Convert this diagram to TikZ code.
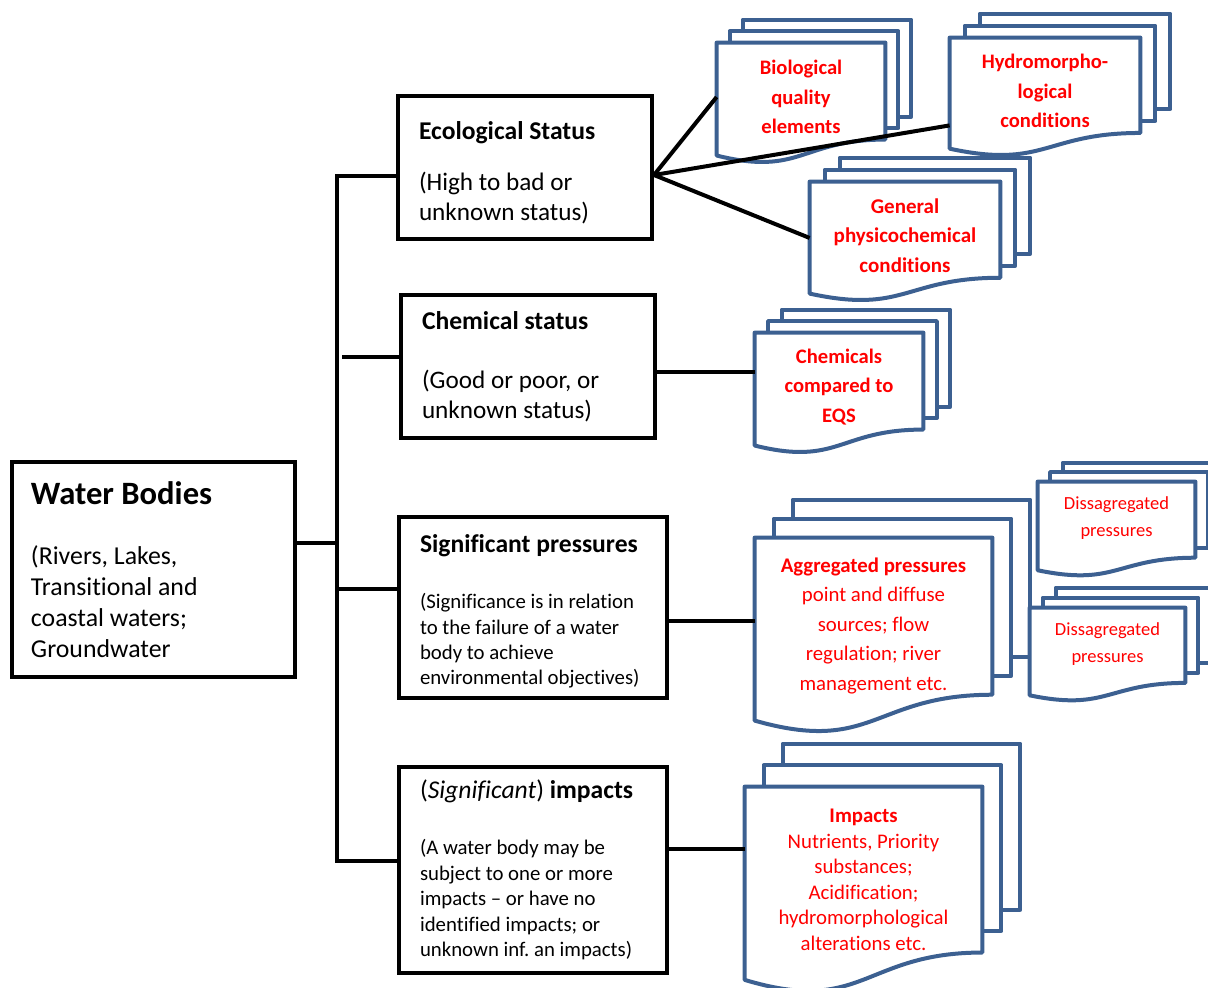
\documentclass[tikz,border=0pt]{standalone}
\usepackage{fontspec}
\setmainfont{Carlito}[Ligatures=NoCommon]
\usetikzlibrary{positioning, calc, backgrounds}
\frenchspacing

\definecolor{docblue}{RGB}{60,96,145}

% stack of three documents behind node #1, shifted by (#2,#3)
\newcommand{\docstack}[3]{%
  \foreach \k in {2,1}{
    \draw[docline] let \p1=($(#1.north)-(#1.south)$) in
      ($(#1.north west)+(\k*#2,-\k*#3)$) rectangle ($(#1.south east)+(\k*#2,-\k*#3)+(0pt,0.1089*\y1)$);
  }
  \draw[docline] let \p1=($(#1.north)-(#1.south)$) in
    ($(#1.south east)+(0pt,0.1089*\y1)$) .. controls ($(#1.south)+(0pt,0.1089*\y1)$) and ($(#1.south)+(0pt,-0.2306*\y1)$)
    .. ($(#1.south west)+(0pt,-0.0378*\y1)$) -- (#1.north west) -- (#1.north east) -- cycle;
}

\begin{document}
\begin{tikzpicture}[x=0.5pt, y=-0.5pt,
            box/.style={draw, line width=2pt, align=flush left, inner xsep=10.5pt, inner ysep=0pt},
            docline/.style={draw=docblue, line width=2pt, fill=white, line join=round},
            doc/.style={inner sep=0pt, align=center, text=red},
            conn/.style={line width=2pt},
        ]
        \useasboundingbox (0,0) rectangle (1208,987);

        \node[box, minimum width=141.5pt, minimum height=107.5pt, text width=122.5pt, inner xsep=9.5pt,
              font=\fontsize{12.9}{15.5}\selectfont] (wb) at (153.5,569.5)
            {{\fontsize{16.3}{18}\selectfont\bfseries Water Bodies}\\[14.5pt](Rivers, Lakes,\\Transitional and\\coastal waters;\\Groundwater};
        \node[box, minimum width=127pt, minimum height=71.5pt, text width=106pt,
              font=\fontsize{12.6}{15}\selectfont] (eco) at (525,167.5)
            {\rule{0pt}{14.6pt}{\fontsize{12.8}{15}\selectfont\bfseries Ecological Status}\\[10.5pt](High to bad or\\unknown status)};
        \node[box, minimum width=127pt, minimum height=71.5pt, text width=106pt,
              font=\fontsize{12.6}{15}\selectfont] (chem) at (528,366.5)
            {{\fontsize{12.8}{15}\selectfont\bfseries Chemical status}\\[14.5pt](Good or poor, or\\unknown status)};
        \node[box, minimum width=134pt, minimum height=90.5pt, text width=113pt,
              font=\fontsize{10.4}{12.7}\selectfont] (pres) at (533,607.5)
            {\rule{0pt}{13.1pt}{\fontsize{12.8}{15}\selectfont\bfseries Significant pressures}\\[15.3pt](Significance is in relation\\to the failure of a water\\body to achieve\\environmental objectives)};
        \node[box, minimum width=134pt, minimum height=103pt, text width=113pt,
              font=\fontsize{10.4}{12.75}\selectfont] (imp) at (533,870)
            {{\fontsize{12.8}{15}\selectfont(\textit{Significant}) \textbf{impacts}}\\[15.25pt](A water body may be\\subject to one or more\\impacts – or have no\\identified impacts; or\\unknown inf. an impacts)};

        \node[doc, minimum width=84pt, minimum height=54pt, font=\fontsize{10.3}{14.75}\selectfont\bfseries] (bio) at (801,97)
            {Biological\\quality\\elements};
        \node[doc, minimum width=95pt, minimum height=53.1pt, font=\fontsize{10.3}{14.75}\selectfont\bfseries] (hydro) at (1045,91.1)
            {Hydromorpho-\\logical\\conditions};
        \node[doc, minimum width=95pt, minimum height=53.55pt, font=\fontsize{10.5}{14.75}\selectfont\bfseries] (gen) at (905,235.55)
            {General\\physicochemical\\conditions};
        \node[doc, minimum width=84pt, minimum height=54pt, font=\fontsize{10.3}{14.75}\selectfont\bfseries] (chems) at (839,387)
            {Chemicals\\compared to\\EQS};
        \node[doc, minimum width=118.5pt, minimum height=87.75pt, font=\fontsize{10.4}{14.75}\selectfont] (agg) at (873.5,625.75)
            {\textbf{Aggregated pressures}\\point and diffuse\\sources; flow\\regulation; river\\management etc.};
        \node[doc, minimum width=78.5pt, minimum height=42.3pt, font=\fontsize{9.25}{13.5}\selectfont] (disA) at (1116.5,524.3)
            {Dissagregated\\pressures\rule[-7.3pt]{0pt}{7.3pt}};
        \node[doc, minimum width=77.5pt, minimum height=41.85pt, font=\fontsize{9.25}{13.5}\selectfont] (disB) at (1107.5,649.85)
            {Dissagregated\\pressures\rule[-7.3pt]{0pt}{7.3pt}};
        \node[doc, minimum width=118.5pt, minimum height=92.7pt, font=\fontsize{10.4}{12.75}\selectfont] (impd) at (863.5,879.7)
            {\textbf{Impacts}\\Nutrients, Priority\\substances;\\Acidification;\\hydromorphological\\alterations etc.};

        \begin{pgfonlayer}{background}
            \docstack{bio}{13}{11.5}
            \docstack{hydro}{15}{12}
            \docstack{gen}{15}{12}
            \docstack{chems}{13.5}{11.5}
            \docstack{agg}{19}{19}
            \docstack{disA}{12.5}{9.5}
            \docstack{disB}{13}{10}
            \docstack{impd}{19}{21.5}
        \end{pgfonlayer}

        % tree on the left
        \coordinate (tx) at (337,0);
        \coordinate (ecoin) at ([yshift=-4.25pt]eco.west);
        \coordinate (chemin) at ([yshift=4.75pt]chem.west);
        \coordinate (wbout) at ([yshift=13.25pt]wb.east);
        \coordinate (presin) at ([yshift=9.25pt]pres.west);
        \coordinate (impin) at ([yshift=4.5pt]imp.west);
        \draw[conn] (ecoin) -| (tx |- impin) -- (impin);
        \draw[conn] (chemin) -- ([xshift=2.5pt]chemin -| tx);
        \foreach \b in {wbout, presin} {
            \draw[conn] (\b) -- (\b -| tx);
        }

        % links to the documents
        \coordinate (ecoout) at ([yshift=-3.75pt]eco.east);
        \draw[conn] (ecoout) -- (bio.west);
        \draw[conn] (ecoout) -- ([yshift=9.6pt]hydro.south west);
        \draw[conn] (ecoout) -- ([yshift=-1.2pt]gen.west);
        \draw[conn] ([yshift=-2.5pt]chem.east) coordinate (chemout) -- (chemout -| chems.west);
        \draw[conn] ([yshift=2.4pt]agg.west) coordinate (aggin) -- (aggin -| pres.east);
        \draw[conn] ([yshift=15.35pt]impd.west) coordinate (impdin) -- (impdin -| imp.east);
    \end{tikzpicture}
\end{document}
